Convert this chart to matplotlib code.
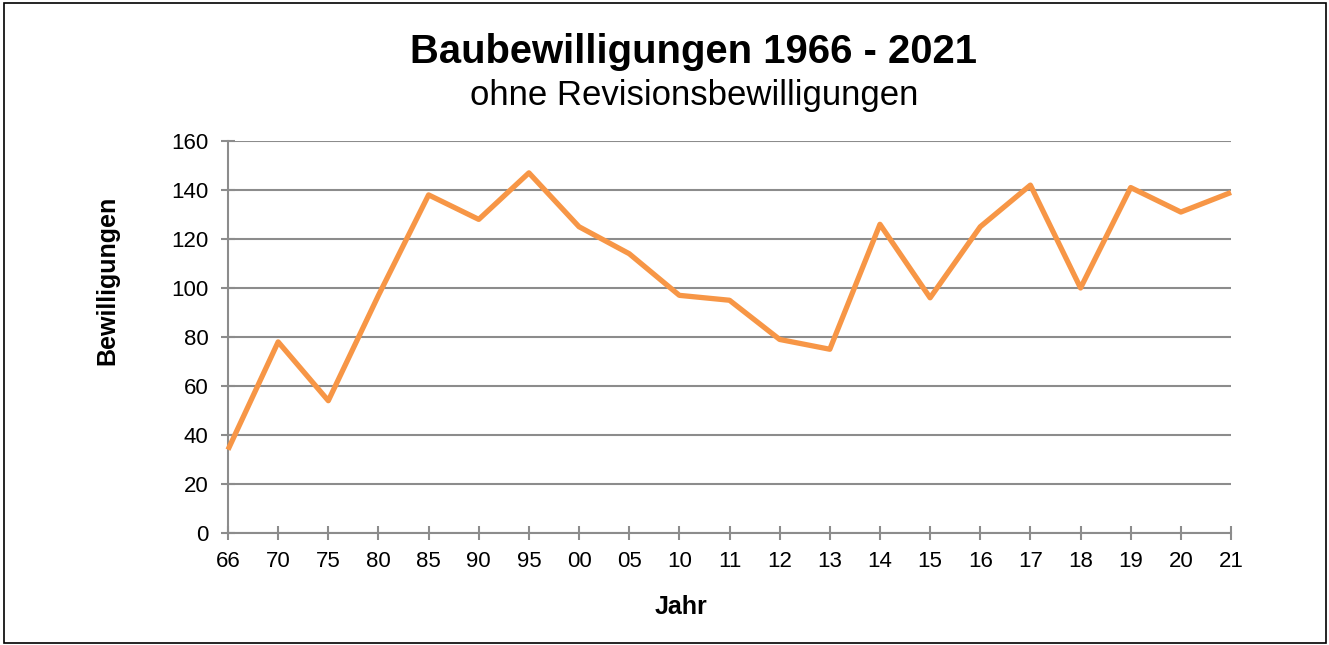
import matplotlib
matplotlib.use("Agg")
import matplotlib.pyplot as plt
from matplotlib.patches import Rectangle

plt.rcParams["font.family"] = ["Liberation Sans", "DejaVu Sans"]

# daten
jahre = ["66", "70", "75", "80", "85", "90", "95", "00", "05", "10", "11",
         "12", "13", "14", "15", "16", "17", "18", "19", "20", "21"]
bewilligungen = [34, 78, 54, 97, 138, 128, 147, 125, 114, 97, 95,
                 79, 75, 126, 96, 125, 142, 100, 141, 131, 139]
y_ticks = [0, 20, 40, 60, 80, 100, 120, 140, 160]

W, H = 1329, 645
fig = plt.figure(figsize=(W / 100, H / 100), dpi=100)

# rahmen
fig.patches.append(Rectangle((4 / W, 2 / H), 1322 / W, 640 / H, transform=fig.transFigure,
                             fill=False, edgecolor="black", linewidth=1.2))

ax = fig.add_axes([228 / W, 1 - 533 / H, (1231 - 228) / W, (533 - 141) / H])
x = list(range(len(jahre)))
ax.plot(x, bewilligungen, color="#F79646", linewidth=3.8, solid_joinstyle="round",
        solid_capstyle="butt", zorder=3, clip_on=False)

ax.set_xlim(0, len(jahre) - 1)
ax.set_ylim(0, 160)
ax.set_xticks(x)
ax.set_xticklabels(jahre)
ax.set_yticks(y_ticks)
ax.grid(axis="y", color="#8c8c8c", linewidth=1.5)
ax.set_axisbelow(True)

for s in ["top", "right"]:
    ax.spines[s].set_visible(False)
for s in ["left", "bottom"]:
    ax.spines[s].set_color("#8c8c8c")
    ax.spines[s].set_linewidth(1.5)
ax.tick_params(axis="both", direction="inout", length=10, width=1.5, color="#8c8c8c",
               labelsize=16)
ax.tick_params(axis="x", pad=8)
ax.tick_params(axis="y", pad=9)

fig.text(107 / W, 1 - 280 / H, "Bewilligungen", fontsize=18, fontweight="bold",
         rotation=90, ha="center", va="center")
fig.text(681 / W, 1 - 607 / H, "Jahr", fontsize=18, fontweight="bold",
         ha="center", va="center")

fig.text(693 / W, 1 - 52 / H, "Baubewilligungen 1966 - 2021", fontsize=28.8, fontweight="bold",
         ha="center", va="center")
fig.text(694 / W, 1 - 96 / H, "ohne Revisionsbewilligungen", fontsize=25,
         ha="center", va="center")

fig.savefig("out.png", dpi=100)
